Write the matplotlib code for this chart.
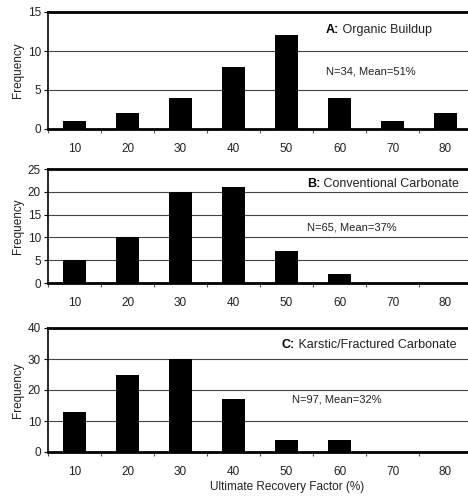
import matplotlib
matplotlib.use("Agg")
import matplotlib.pyplot as plt
from matplotlib.ticker import MultipleLocator, FixedLocator

plt.rcParams["font.family"] = ["Liberation Sans", "DejaVu Sans"]

bins = ["10", "20", "30", "40", "50", "60", "70", "80"]
freq_a = [1, 2, 4, 8, 12, 4, 1, 2]
freq_b = [5, 10, 20, 21, 7, 2, 0, 0]
freq_c = [13, 25, 30, 17, 4, 4, 0, 0]

panels = [
    # (values, ymax, ystep, bold tag, title, stats, title xy, stats xy, axes px)
    (freq_a, 15, 5, "A:", " Organic Buildup", "N=34, Mean=51%",
     (326, 30), (326, 71), [48, 12, 129]),
    (freq_b, 25, 5, "B:", " Conventional Carbonate", "N=65, Mean=37%",
     (307, 184), (307, 227), [48, 169, 283]),
    (freq_c, 40, 10, "C:", " Karstic/Fractured Carbonate", "N=97, Mean=32%",
     (282, 345), (292, 400), [48, 328, 452]),
]

W, H = 468, 496
fig = plt.figure(figsize=(W / 100, H / 100), dpi=100)
text_col = "#222222"

for vals, ymax, ystep, tag, title, stats, txy, sxy, (x0, ytop, ybot) in panels:
    ax = fig.add_axes([x0 / W, 1 - ybot / H, (472 - x0) / W, (ybot - ytop) / H])
    x = list(range(len(bins)))
    ax.bar(x, vals, width=0.44, color="black", zorder=3)
    ax.set_xlim(-0.5, len(bins) - 0.5)
    ax.set_ylim(0, ymax)
    ax.yaxis.set_major_locator(MultipleLocator(ystep))
    ax.yaxis.grid(True, color="#444444", linewidth=0.8, zorder=0)
    ax.set_axisbelow(True)

    ax.set_xticks(x)
    ax.set_xticklabels(bins)
    ax.xaxis.set_minor_locator(FixedLocator([i - 0.5 for i in range(len(bins) + 1)]))
    ax.tick_params(axis="x", which="major", length=0, pad=10, labelsize=8.5, labelcolor=text_col)
    ax.tick_params(axis="x", which="minor", length=3, width=0.8, direction="out", color="#555555")
    ax.tick_params(axis="y", length=3, width=0.8, labelsize=8.5, labelcolor=text_col, pad=2)

    ax.spines["top"].set_linewidth(2.0)
    ax.spines["bottom"].set_linewidth(2.0)
    ax.spines["left"].set_linewidth(1.2)
    ax.spines["right"].set_visible(False)
    ax.set_ylabel("Frequency", fontsize=8.5, color=text_col, labelpad=3)

    t = fig.text(txy[0] / W, 1 - txy[1] / H, tag, fontsize=9, fontweight="bold",
                 va="center", ha="left", color="black")
    fig.canvas.draw()
    bb = t.get_window_extent()
    fig.text(bb.x1 / W, 1 - txy[1] / H, title, fontsize=9, va="center",
             ha="left", color=text_col)
    fig.text(sxy[0] / W, 1 - sxy[1] / H, stats, fontsize=8, va="center",
             ha="left", color=text_col)

fig.text(287 / W, 1 - 487 / H, "Ultimate Recovery Factor (%)", fontsize=8.5,
         ha="center", va="center", color=text_col)

fig.savefig("out.png", dpi=100)
